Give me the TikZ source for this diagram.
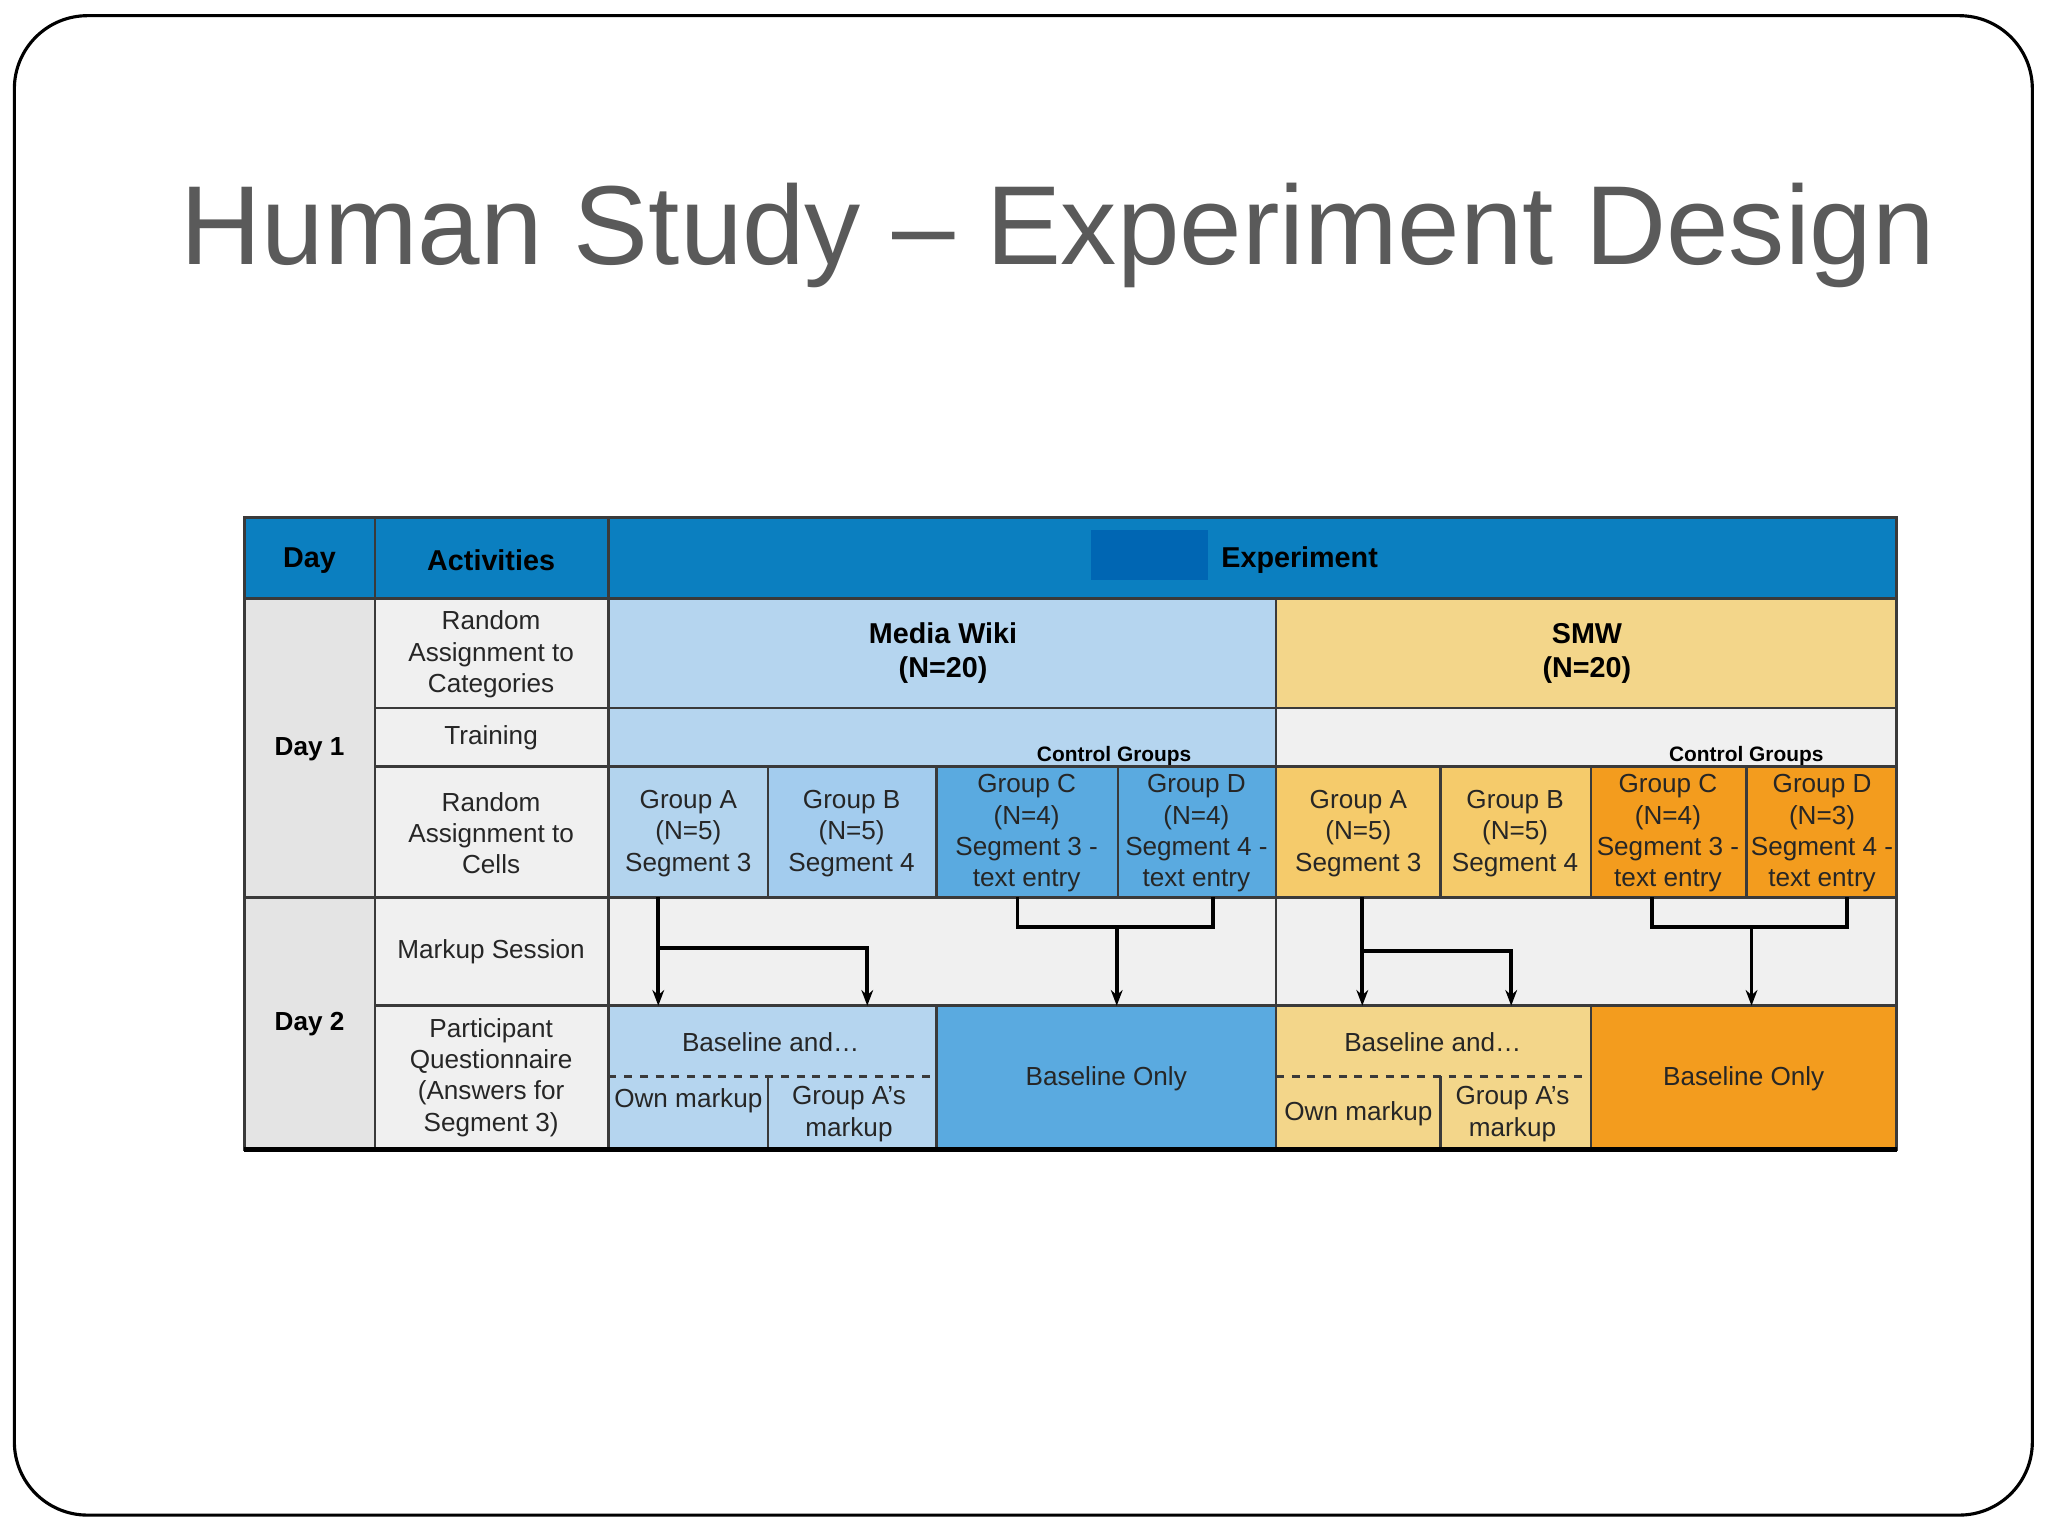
\documentclass[tikz,border=0pt]{standalone}
\usepackage{fontspec}
\setmainfont{Liberation Sans}
\usetikzlibrary{arrows.meta}
\definecolor{hdr}{HTML}{0B7FC0}
\definecolor{hdrd}{HTML}{0066B3}
\definecolor{dayg}{HTML}{E4E4E4}
\definecolor{actg}{HTML}{F0F0F0}
\definecolor{mwl}{HTML}{B5D5EF}
\definecolor{mwa}{HTML}{B3D4EE}
\definecolor{mwb}{HTML}{A3CCEE}
\definecolor{mwc}{HTML}{5AAAE0}
\definecolor{smwl}{HTML}{F3D68A}
\definecolor{smwa}{HTML}{F5CB6B}
\definecolor{smwc}{HTML}{F39C1E}
\definecolor{ttl}{HTML}{5A5A5A}
\definecolor{ln}{HTML}{3A3A3A}
\tikzset{
 cell/.style={draw=ln,line width=1pt},
 txt/.style={align=center,font=\fontsize{10}{12}\selectfont,text=black!85},
 bold/.style={align=center,font=\fontsize{11}{13}\selectfont\bfseries},
 arr/.style={line width=1.5pt,-{Stealth[length=6pt]}},
 ln2/.style={line width=1.5pt}
}
\begin{document}
\begin{tikzpicture}[x=0.5pt,y=-0.5pt]
\useasboundingbox (0,0) rectangle (1568,1176);
\fill[white] (0,0) rectangle (1568,1176);
\draw[line width=1.2pt,rounded corners=28pt] (11,12) rectangle (1556,1160);
\node[text=ttl,font=\fontsize{43}{50}\selectfont] (title) at (810,180) {Human Study – Experiment Design};
% header
\fill[hdr] (187,396) rectangle (1452,458);
\fill[hdrd] (835,406) rectangle (925,444);
\draw[cell] (187,396) rectangle (287,458) (287,396) rectangle (466,458) (466,396) rectangle (1452,458);
\node[bold] (hday) at (237,429) {Day};
\node[bold] (hact) at (376,429) {Activities};
\node[bold] (hexp) at (995,429) {Experiment};
% day col
\fill[dayg] (187,458) rectangle (287,880);
\draw[cell] (187,458) rectangle (287,687) (187,687) rectangle (287,880);
\node[bold,font=\fontsize{10}{12}\selectfont\bfseries] (d1) at (237,574) {Day 1};
\node[bold,font=\fontsize{10}{12}\selectfont\bfseries] (d2) at (237,784) {Day 2};
% activities
\fill[actg] (287,458) rectangle (466,880);
\draw[cell] (287,458) rectangle (466,542) (287,542) rectangle (466,587) (287,587) rectangle (466,687) (287,687) rectangle (466,770) (287,770) rectangle (466,880);
\node[txt] (a1) at (376,501) {Random\\Assignment to\\Categories};
\node[txt] (a2) at (376,565) {Training};
\node[txt] (a3) at (376,638) {Random\\Assignment to\\Cells};
\node[txt] (a4) at (376,729) {Markup Session};
\node[txt] (a5) at (376,825) {Participant\\Questionnaire\\(Answers for\\Segment 3)};
% categories
\fill[mwl] (466,458) rectangle (977,587);
\fill[smwl] (977,458) rectangle (1452,542);
\fill[actg] (977,542) rectangle (1452,587);
\draw[cell] (466,458) rectangle (977,542) (977,458) rectangle (1452,542) (466,542) rectangle (977,587) (977,542) rectangle (1452,587);
\node[bold] (mw) at (722,500) {Media Wiki\\(N=20)};
\node[bold] (smw) at (1215,500) {SMW\\(N=20)};
\node[bold,font=\fontsize{8}{9}\selectfont\bfseries] (cg1) at (853,579) {Control Groups};
\node[bold,font=\fontsize{8}{9}\selectfont\bfseries] (cg2) at (1337,579) {Control Groups};
% groups
\fill[mwa] (466,587) rectangle (588,687);
\fill[mwb] (588,587) rectangle (717,687);
\fill[mwc] (717,587) rectangle (977,687);
\fill[smwa] (977,587) rectangle (1218,687);
\fill[smwc] (1218,587) rectangle (1452,687);
\foreach \a/\b in {466/588,588/717,717/856,856/977,977/1103,1103/1218,1218/1337,1337/1452}
  \draw[cell] (\a,587) rectangle (\b,687);
\node[txt] (ga1) at (527,638) {Group A\\(N=5)\\Segment 3};
\node[txt] (gb1) at (652,638) {Group B\\(N=5)\\Segment 4};
\node[txt] (gc1) at (786,638) {Group C\\(N=4)\\Segment 3 -\\text entry};
\node[txt] (gd1) at (916,638) {Group D\\(N=4)\\Segment 4 -\\text entry};
\node[txt] (ga2) at (1040,638) {Group A\\(N=5)\\Segment 3};
\node[txt] (gb2) at (1160,638) {Group B\\(N=5)\\Segment 4};
\node[txt] (gc2) at (1277,638) {Group C\\(N=4)\\Segment 3 -\\text entry};
\node[txt] (gd2) at (1395,638) {Group D\\(N=3)\\Segment 4 -\\text entry};
% markup row
\fill[actg] (466,687) rectangle (1452,770);
\draw[cell] (466,687) rectangle (977,770) (977,687) rectangle (1452,770);
% questionnaire
\fill[mwl] (466,770) rectangle (717,880);
\fill[mwc] (717,770) rectangle (977,880);
\fill[smwl] (977,770) rectangle (1218,880);
\fill[smwc] (1218,770) rectangle (1452,880);
\draw[cell] (466,770) rectangle (717,880) (717,770) rectangle (977,880) (977,770) rectangle (1218,880) (1218,770) rectangle (1452,880);
\draw[line width=1.2pt,dashed,ln] (466,824) -- (717,824) (977,824) -- (1218,824);
\draw[cell] (588,824) -- (588,880) (1103,824) -- (1103,880);
\draw[line width=2pt] (187,880) -- (1452,880);
\node[txt] (bm) at (590,798) {Baseline and\dots};
\node[txt] (om1) at (527,843) {Own markup};
\node[txt] (gm1) at (650,853) {Group A's\\markup};
\node[txt] (bo1) at (847,826) {Baseline Only};
\node[txt] (bs) at (1097,798) {Baseline and\dots};
\node[txt] (om2) at (1040,853) {Own markup};
\node[txt] (gm2) at (1158,853) {Group A's\\markup};
\node[txt] (bo2) at (1335,826) {Baseline Only};
% arrows
\coordinate (p1) at (504,687); \coordinate (p1b) at (504,726); \coordinate (p1e) at (504,770);
\coordinate (p2) at (664,726); \coordinate (p2e) at (664,770);
\draw[arr] (p1) -- (p1e);
\draw[arr] (p1b) -- (p2) -- (p2e);
\coordinate (c1) at (779,687); \coordinate (c2) at (929,687);
\coordinate (cm) at (855,710); \coordinate (ce) at (855,770);
\draw[ln2] (c1) |- (cm) -| (c2);
\draw[arr] (cm) -- (ce);
\coordinate (s1) at (1043,687); \coordinate (s1b) at (1043,728); \coordinate (s1e) at (1043,770);
\coordinate (s2) at (1157,728); \coordinate (s2e) at (1157,770);
\draw[arr] (s1) -- (s1e);
\draw[arr] (s1b) -- (s2) -- (s2e);
\coordinate (t1) at (1265,687); \coordinate (t2) at (1414,687);
\coordinate (tm) at (1341,710); \coordinate (te) at (1341,770);
\draw[ln2] (t1) |- (tm) -| (t2);
\draw[arr] (tm) -- (te);
\end{tikzpicture}
\end{document}
